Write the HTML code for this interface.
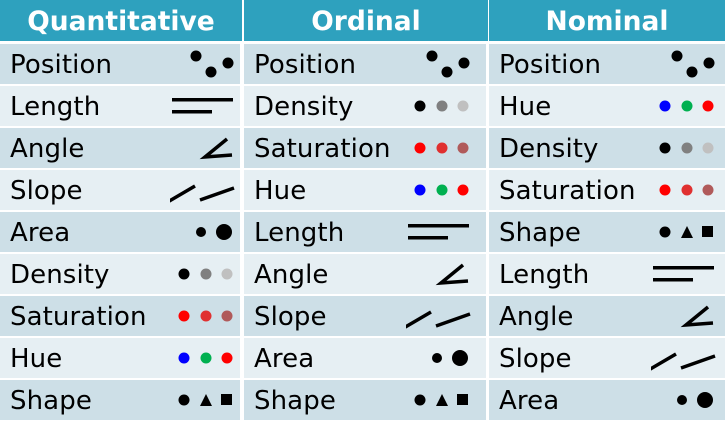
<!DOCTYPE html>
<html><head><meta charset="utf-8"><style>
body{margin:0;width:726px;height:421px;background:#fff;overflow:hidden;font-family:"DejaVu Sans","Liberation Sans",sans-serif}
.t{position:absolute;left:0;top:0;width:726px;height:421px}
.h{position:absolute;top:0;height:41px;background:#2ea1be;color:#fff;font-weight:bold;font-size:26.5px;line-height:43px;text-align:center}
.c{position:absolute;height:40px;font-size:26px;line-height:42px;padding-left:10px;box-sizing:border-box;color:#000;letter-spacing:0.1px}
.c svg{position:absolute;top:0}
</style></head><body>
<div class="t" id="t"></div>
<script>
const headers=["Quantitative","Ordinal","Nominal"];
const colQ=["Position","Length","Angle","Slope","Area","Density","Saturation","Hue","Shape"];
const colO=["Position","Density","Saturation","Hue","Length","Angle","Slope","Area","Shape"];
const colN=["Position","Hue","Density","Saturation","Shape","Length","Angle","Slope","Area"];
const cols=[colQ,colO,colN];
const xs=[0,244,489],ws=[242,244,236];
const iconRight=[0,10,4];
const t=document.getElementById('t');
function icon(k){
 const dots=c=>`<circle cx="12" cy="20" r="5.5" fill="${c[0]}"/><circle cx="34" cy="20" r="5.5" fill="${c[1]}"/><circle cx="55" cy="20" r="5.5" fill="${c[2]}"/>`;
 const m={
 Position:`<circle cx="24" cy="12" r="5.5"/><circle cx="39" cy="28" r="5.5"/><circle cx="56" cy="19" r="5.5"/>`,
 Length:`<rect x="0" y="12" width="61" height="3.5"/><rect x="0" y="24" width="40" height="3.5"/>`,
 Angle:`<path d="M55 11 L33 29 L60 27" stroke="#000" stroke-width="3.5" fill="none"/>`,
 Slope:`<path d="M-6 33 L23 16 M28 30 L62 18" stroke="#000" stroke-width="3.5" fill="none"/>`,
 Area:`<circle cx="29" cy="20" r="5"/><circle cx="52" cy="20" r="8"/>`,
 Density:dots(["#000","#808080","#c0c0c0"]),
 Saturation:dots(["#ff0000","#e03030","#b05a5a"]),
 Hue:dots(["#0000ff","#00b050","#ff0000"]),
 Shape:`<circle cx="12" cy="20" r="5.5"/><path d="M28 26 L34 14 L40 26Z"/><rect x="49" y="14" width="11" height="11"/>`
 };
 return `<svg width="70" height="40" viewBox="-2 0 70 40">${m[k]}</svg>`;
}
headers.forEach((h,i)=>{
 const d=document.createElement('div');d.className='h';
 d.style.left=xs[i]+'px';d.style.width=ws[i]+'px';d.textContent=h;
 
 
 t.appendChild(d);
 cols[i].forEach((lab,r)=>{
  const c=document.createElement('div');c.className='c';
  c.style.left=xs[i]+'px';c.style.width=(ws[i]-(i==2?0:2))+'px';
  c.style.top=(44+r*42)+'px';
  c.style.background=r%2?'#e6eff3':'#cddfe7';
  c.innerHTML=lab+icon(lab);
  c.querySelector('svg').style.right=iconRight[i]+'px';
  
  
  t.appendChild(c);
 });
});
</script>
</body></html>
